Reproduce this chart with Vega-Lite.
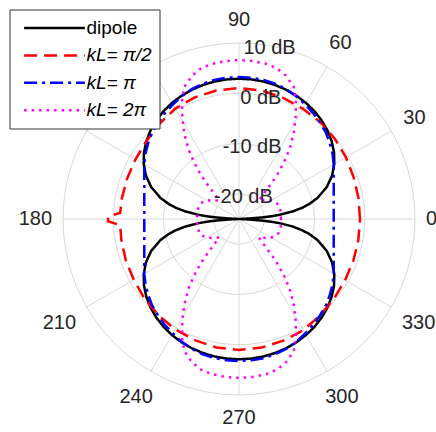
{
"$schema":"https://vega.github.io/schema/vega-lite/v6.json",
"width":352,"height":352,
"autosize":{"type":"none"},
"padding":{"left":63,"top":43,"right":21,"bottom":37},
"background":"white",
"config":{"view":{"stroke":null},"font":"Liberation Sans"},
"datasets":{
"rings":[{"v":-20},{"v":-10},{"v":0},{"v":10}],
"spokes":[{"a":0},{"a":30},{"a":60},{"a":90},{"a":120},{"a":150},{"a":180},{"a":210},{"a":240},{"a":270},{"a":300},{"a":330}],
"alabels":[{"t":"0","a":0},{"t":"30","a":30},{"t":"60","a":60},{"t":"90","a":90},{"t":"180","a":180},{"t":"210","a":210},{"t":"240","a":240},{"t":"270","a":270},{"t":"300","a":300},{"t":"330","a":330}],
"rlabels":[{"t":"-20 dB","v":-20},{"t":"-10 dB","v":-10},{"t":"0 dB","v":0},{"t":"10 dB","v":10}],
"curves":[
{"s":"dipole","a":0,"d":-25},{"s":"dipole","a":2.5,"d":-24.31},{"s":"dipole","a":3,"d":-22.72},{"s":"dipole","a":4,"d":-20.23},{"s":"dipole","a":5,"d":-18.29},{"s":"dipole","a":6,"d":-16.72},{"s":"dipole","a":8,"d":-14.23},{"s":"dipole","a":10,"d":-12.31},{"s":"dipole","a":12,"d":-10.74},{"s":"dipole","a":15,"d":-8.84},{"s":"dipole","a":20,"d":-6.42},{"s":"dipole","a":25,"d":-4.58},{"s":"dipole","a":30,"d":-3.12},{"s":"dipole","a":35,"d":-1.93},{"s":"dipole","a":40,"d":-0.94},{"s":"dipole","a":45,"d":-0.11},{"s":"dipole","a":50,"d":0.58},{"s":"dipole","a":55,"d":1.17},{"s":"dipole","a":60,"d":1.65},{"s":"dipole","a":65,"d":2.05},{"s":"dipole","a":70,"d":2.36},{"s":"dipole","a":75,"d":2.6},{"s":"dipole","a":80,"d":2.77},{"s":"dipole","a":85,"d":2.87},{"s":"dipole","a":90,"d":2.9},
{"s":"dipole","a":95,"d":2.87},{"s":"dipole","a":100,"d":2.77},{"s":"dipole","a":105,"d":2.6},{"s":"dipole","a":110,"d":2.36},{"s":"dipole","a":115,"d":2.05},{"s":"dipole","a":120,"d":1.65},{"s":"dipole","a":125,"d":1.17},{"s":"dipole","a":130,"d":0.58},{"s":"dipole","a":135,"d":-0.11},{"s":"dipole","a":140,"d":-0.94},{"s":"dipole","a":145,"d":-1.93},{"s":"dipole","a":150,"d":-3.12},{"s":"dipole","a":155,"d":-4.58},{"s":"dipole","a":160,"d":-6.42},{"s":"dipole","a":165,"d":-8.84},{"s":"dipole","a":168,"d":-10.74},{"s":"dipole","a":170,"d":-12.31},{"s":"dipole","a":172,"d":-14.23},{"s":"dipole","a":174,"d":-16.72},{"s":"dipole","a":175,"d":-18.29},{"s":"dipole","a":176,"d":-20.23},{"s":"dipole","a":177,"d":-22.72},{"s":"dipole","a":177.5,"d":-24.31},{"s":"dipole","a":180,"d":-25},
{"s":"dipole","a":182.5,"d":-24.31},{"s":"dipole","a":183,"d":-22.72},{"s":"dipole","a":184,"d":-20.23},{"s":"dipole","a":185,"d":-18.29},{"s":"dipole","a":186,"d":-16.72},{"s":"dipole","a":188,"d":-14.23},{"s":"dipole","a":190,"d":-12.31},{"s":"dipole","a":192,"d":-10.74},{"s":"dipole","a":195,"d":-8.84},{"s":"dipole","a":200,"d":-6.42},{"s":"dipole","a":205,"d":-4.58},{"s":"dipole","a":210,"d":-3.12},{"s":"dipole","a":215,"d":-1.93},{"s":"dipole","a":220,"d":-0.94},{"s":"dipole","a":225,"d":-0.11},{"s":"dipole","a":230,"d":0.58},{"s":"dipole","a":235,"d":1.17},{"s":"dipole","a":240,"d":1.65},{"s":"dipole","a":245,"d":2.05},{"s":"dipole","a":250,"d":2.36},{"s":"dipole","a":255,"d":2.6},{"s":"dipole","a":260,"d":2.77},{"s":"dipole","a":265,"d":2.87},{"s":"dipole","a":270,"d":2.9},
{"s":"dipole","a":275,"d":2.87},{"s":"dipole","a":280,"d":2.77},{"s":"dipole","a":285,"d":2.6},{"s":"dipole","a":290,"d":2.36},{"s":"dipole","a":295,"d":2.05},{"s":"dipole","a":300,"d":1.65},{"s":"dipole","a":305,"d":1.17},{"s":"dipole","a":310,"d":0.58},{"s":"dipole","a":315,"d":-0.11},{"s":"dipole","a":320,"d":-0.94},{"s":"dipole","a":325,"d":-1.93},{"s":"dipole","a":330,"d":-3.12},{"s":"dipole","a":335,"d":-4.58},{"s":"dipole","a":340,"d":-6.42},{"s":"dipole","a":345,"d":-8.84},{"s":"dipole","a":348,"d":-10.74},{"s":"dipole","a":350,"d":-12.31},{"s":"dipole","a":352,"d":-14.23},{"s":"dipole","a":354,"d":-16.72},{"s":"dipole","a":355,"d":-18.29},{"s":"dipole","a":356,"d":-20.23},{"s":"dipole","a":357,"d":-22.72},{"s":"dipole","a":357.5,"d":-24.31},{"s":"dipole","a":360,"d":-25},
{"s":"kL= π/2","a":0,"d":-0.94},{"s":"kL= π/2","a":10,"d":-0.88},{"s":"kL= π/2","a":20,"d":-0.74},{"s":"kL= π/2","a":30,"d":-0.44},{"s":"kL= π/2","a":40,"d":-0.14},{"s":"kL= π/2","a":50,"d":0.15},{"s":"kL= π/2","a":60,"d":0.35},{"s":"kL= π/2","a":70,"d":0.65},{"s":"kL= π/2","a":80,"d":0.95},{"s":"kL= π/2","a":90,"d":1.05},{"s":"kL= π/2","a":100,"d":0.95},{"s":"kL= π/2","a":110,"d":0.75},{"s":"kL= π/2","a":120,"d":0.35},{"s":"kL= π/2","a":130,"d":-0.34},{"s":"kL= π/2","a":140,"d":-0.94},{"s":"kL= π/2","a":150,"d":-1.24},{"s":"kL= π/2","a":160,"d":-1.34},{"s":"kL= π/2","a":170,"d":-1.34},{"s":"kL= π/2","a":177,"d":-1.34},{"s":"kL= π/2","a":179,"d":1.05},{"s":"kL= π/2","a":181,"d":1.05},{"s":"kL= π/2","a":183,"d":-1.34},{"s":"kL= π/2","a":190,"d":-1.24},{"s":"kL= π/2","a":200,"d":-1.04},{"s":"kL= π/2","a":210,"d":-0.84},{"s":"kL= π/2","a":220,"d":-0.44},{"s":"kL= π/2","a":230,"d":-0.04},{"s":"kL= π/2","a":240,"d":0.35},{"s":"kL= π/2","a":250,"d":0.65},{"s":"kL= π/2","a":260,"d":0.95},{"s":"kL= π/2","a":270,"d":1.05},{"s":"kL= π/2","a":280,"d":0.95},{"s":"kL= π/2","a":290,"d":0.75},{"s":"kL= π/2","a":300,"d":0.55},{"s":"kL= π/2","a":310,"d":0.05},{"s":"kL= π/2","a":320,"d":-0.34},{"s":"kL= π/2","a":330,"d":-0.64},{"s":"kL= π/2","a":340,"d":-0.8},{"s":"kL= π/2","a":350,"d":-0.9},{"s":"kL= π/2","a":360,"d":-0.94},
{"s":"kL= π","a":30,"d":-3.25},{"s":"kL= π","a":35,"d":-2.3},{"s":"kL= π","a":40,"d":-1.44},{"s":"kL= π","a":45,"d":-0.6},{"s":"kL= π","a":50,"d":0.05},{"s":"kL= π","a":55,"d":0.7},{"s":"kL= π","a":60,"d":1.3},{"s":"kL= π","a":65,"d":1.94},{"s":"kL= π","a":70,"d":2.48},{"s":"kL= π","a":75,"d":2.84},{"s":"kL= π","a":80,"d":3.1},{"s":"kL= π","a":85,"d":3.2},{"s":"kL= π","a":90,"d":3.24},
{"s":"kL= π","a":95,"d":3.2},{"s":"kL= π","a":100,"d":3.1},{"s":"kL= π","a":105,"d":2.84},{"s":"kL= π","a":110,"d":2.48},{"s":"kL= π","a":115,"d":1.94},{"s":"kL= π","a":120,"d":1.3},{"s":"kL= π","a":125,"d":0.7},{"s":"kL= π","a":130,"d":0.05},{"s":"kL= π","a":135,"d":-0.6},{"s":"kL= π","a":140,"d":-1.44},{"s":"kL= π","a":145,"d":-2.3},{"s":"kL= π","a":150,"d":-3.25},
{"s":"kL= π","a":210,"d":-3.25},{"s":"kL= π","a":215,"d":-2.3},{"s":"kL= π","a":220,"d":-1.44},{"s":"kL= π","a":225,"d":-0.6},{"s":"kL= π","a":230,"d":0.05},{"s":"kL= π","a":235,"d":0.7},{"s":"kL= π","a":240,"d":1.3},{"s":"kL= π","a":245,"d":1.94},{"s":"kL= π","a":250,"d":2.48},{"s":"kL= π","a":255,"d":2.84},{"s":"kL= π","a":260,"d":3.1},{"s":"kL= π","a":265,"d":3.2},{"s":"kL= π","a":270,"d":3.24},
{"s":"kL= π","a":275,"d":3.2},{"s":"kL= π","a":280,"d":3.1},{"s":"kL= π","a":285,"d":2.84},{"s":"kL= π","a":290,"d":2.48},{"s":"kL= π","a":295,"d":1.94},{"s":"kL= π","a":300,"d":1.3},{"s":"kL= π","a":305,"d":0.7},{"s":"kL= π","a":310,"d":0.05},{"s":"kL= π","a":315,"d":-0.6},{"s":"kL= π","a":320,"d":-1.44},{"s":"kL= π","a":325,"d":-2.3},{"s":"kL= π","a":330,"d":-3.25},{"s":"kL= π","a":390,"d":-3.25},
{"s":"kL= 2π","a":0,"d":-16.65},{"s":"kL= 2π","a":10,"d":-16.55},{"s":"kL= 2π","a":20,"d":-16.65},{"s":"kL= 2π","a":25,"d":-17.05},{"s":"kL= 2π","a":30,"d":-17.64},{"s":"kL= 2π","a":35,"d":-18.44},{"s":"kL= 2π","a":39,"d":-19.13},{"s":"kL= 2π","a":43,"d":-19.63},{"s":"kL= 2π","a":45,"d":-18.44},{"s":"kL= 2π","a":46.5,"d":-17.05},{"s":"kL= 2π","a":48,"d":-15.06},{"s":"kL= 2π","a":49.5,"d":-13.07},{"s":"kL= 2π","a":51.5,"d":-10.68},{"s":"kL= 2π","a":54,"d":-7.9},{"s":"kL= 2π","a":57.5,"d":-4.72},{"s":"kL= 2π","a":61,"d":-1.74},{"s":"kL= 2π","a":64.5,"d":1.25},{"s":"kL= 2π","a":67.5,"d":3.44},{"s":"kL= 2π","a":72,"d":5.03},{"s":"kL= 2π","a":76,"d":5.92},{"s":"kL= 2π","a":80,"d":6.32},{"s":"kL= 2π","a":85,"d":6.52},{"s":"kL= 2π","a":90,"d":6.62},
{"s":"kL= 2π","a":95,"d":6.52},{"s":"kL= 2π","a":100,"d":6.32},{"s":"kL= 2π","a":104,"d":5.92},{"s":"kL= 2π","a":108,"d":5.03},{"s":"kL= 2π","a":112.5,"d":3.44},{"s":"kL= 2π","a":115.5,"d":1.25},{"s":"kL= 2π","a":119,"d":-1.74},{"s":"kL= 2π","a":122.5,"d":-4.72},{"s":"kL= 2π","a":126,"d":-7.9},{"s":"kL= 2π","a":128.5,"d":-10.68},{"s":"kL= 2π","a":130.5,"d":-13.07},{"s":"kL= 2π","a":132,"d":-15.06},{"s":"kL= 2π","a":133.5,"d":-17.05},{"s":"kL= 2π","a":135,"d":-18.44},{"s":"kL= 2π","a":137,"d":-19.63},{"s":"kL= 2π","a":141,"d":-19.13},{"s":"kL= 2π","a":145,"d":-18.44},{"s":"kL= 2π","a":150,"d":-17.64},{"s":"kL= 2π","a":155,"d":-17.05},{"s":"kL= 2π","a":160,"d":-16.65},{"s":"kL= 2π","a":170,"d":-16.55},{"s":"kL= 2π","a":180,"d":-16.65},
{"s":"kL= 2π","a":190,"d":-16.55},{"s":"kL= 2π","a":200,"d":-16.65},{"s":"kL= 2π","a":205,"d":-17.05},{"s":"kL= 2π","a":210,"d":-17.64},{"s":"kL= 2π","a":215,"d":-18.44},{"s":"kL= 2π","a":219,"d":-19.13},{"s":"kL= 2π","a":223,"d":-19.63},{"s":"kL= 2π","a":225,"d":-18.44},{"s":"kL= 2π","a":226.5,"d":-17.05},{"s":"kL= 2π","a":228,"d":-15.06},{"s":"kL= 2π","a":229.5,"d":-13.07},{"s":"kL= 2π","a":231.5,"d":-10.68},{"s":"kL= 2π","a":234,"d":-7.9},{"s":"kL= 2π","a":237.5,"d":-4.72},{"s":"kL= 2π","a":241,"d":-1.74},{"s":"kL= 2π","a":244.5,"d":1.25},{"s":"kL= 2π","a":247.5,"d":3.44},{"s":"kL= 2π","a":252,"d":5.03},{"s":"kL= 2π","a":256,"d":5.92},{"s":"kL= 2π","a":260,"d":6.32},{"s":"kL= 2π","a":265,"d":6.52},{"s":"kL= 2π","a":270,"d":6.62},
{"s":"kL= 2π","a":275,"d":6.52},{"s":"kL= 2π","a":280,"d":6.32},{"s":"kL= 2π","a":284,"d":5.92},{"s":"kL= 2π","a":288,"d":5.03},{"s":"kL= 2π","a":292.5,"d":3.44},{"s":"kL= 2π","a":295.5,"d":1.25},{"s":"kL= 2π","a":299,"d":-1.74},{"s":"kL= 2π","a":302.5,"d":-4.72},{"s":"kL= 2π","a":306,"d":-7.9},{"s":"kL= 2π","a":308.5,"d":-10.68},{"s":"kL= 2π","a":310.5,"d":-13.07},{"s":"kL= 2π","a":312,"d":-15.06},{"s":"kL= 2π","a":313.5,"d":-17.05},{"s":"kL= 2π","a":315,"d":-18.44},{"s":"kL= 2π","a":317,"d":-19.63},{"s":"kL= 2π","a":321,"d":-19.13},{"s":"kL= 2π","a":325,"d":-18.44},{"s":"kL= 2π","a":330,"d":-17.64},{"s":"kL= 2π","a":335,"d":-17.05},{"s":"kL= 2π","a":340,"d":-16.65},{"s":"kL= 2π","a":350,"d":-16.55},{"s":"kL= 2π","a":360,"d":-16.65}
]},
"layer":[
{"data":{"name":"rings"},
 "transform":[{"calculate":"datum.v+25","as":"r"},{"calculate":"0","as":"o"}],
 "mark":{"type":"point","shape":"circle","filled":false,"color":"#d9d9d9","strokeWidth":1,"opacity":1},
 "encoding":{"x":{"field":"o","type":"quantitative","scale":{"domain":[-35,35],"nice":false,"zero":false},"axis":null},
  "y":{"field":"o","type":"quantitative","scale":{"domain":[-35,35],"nice":false,"zero":false},"axis":null},
  "size":{"field":"r","type":"quantitative","scale":{"type":"pow","exponent":2,"domain":[0,35],"range":[0,123904]},"legend":null}}},
{"data":{"name":"spokes"},
 "transform":[{"calculate":"35*cos(datum.a*PI/180)","as":"ex"},{"calculate":"35*sin(datum.a*PI/180)","as":"ey"},{"calculate":"0","as":"o"}],
 "mark":{"type":"rule","color":"#d9d9d9","strokeWidth":1},
 "encoding":{"x":{"field":"o","type":"quantitative","scale":{"domain":[-35,35],"nice":false,"zero":false},"axis":null},
  "y":{"field":"o","type":"quantitative","scale":{"domain":[-35,35],"nice":false,"zero":false},"axis":null},
  "x2":{"field":"ex"},"y2":{"field":"ey"}}},
{"data":{"name":"curves"},
 "transform":[{"calculate":"(max(datum.d,-25)+25)*cos(datum.a*PI/180)","as":"x"},{"calculate":"(max(datum.d,-25)+25)*sin(datum.a*PI/180)","as":"y"}],
 "mark":{"type":"line","strokeWidth":2.5,"clip":false},
 "encoding":{
  "x":{"field":"x","type":"quantitative","scale":{"domain":[-35,35],"nice":false,"zero":false},"axis":null},
  "y":{"field":"y","type":"quantitative","scale":{"domain":[-35,35],"nice":false,"zero":false},"axis":null},
  "order":{"field":"a","type":"quantitative"},
  "color":{"field":"s","type":"nominal","scale":{"domain":["dipole","kL= π/2","kL= π","kL= 2π"],"range":["#000000","#ff0000","#0000ff","#ff00ff"]},
   "legend":{"title":null,"orient":"none","legendX":-53.5,"legendY":-33.5,"symbolType":"M-3.2,0H3.2","symbolSize":361,"symbolStrokeWidth":2.5,"symbolOffset":26.5,"labelFont":"Liberation Sans","labelFontSize":19,"labelColor":"#000000","labelOffset":21,"rowPadding":6.4,"padding":7.5,"strokeColor":"#333333","fillColor":"white","labelLimit":200,
    "encode":{"labels":{"update":{"fontStyle":{"signal":"datum.value === 'dipole' ? 'normal' : 'italic'"}}}}}},
  "strokeDash":{"field":"s","type":"nominal","scale":{"domain":["dipole","kL= π/2","kL= π","kL= 2π"],"range":[[1,0],[13,7],[13,5,3,5],[2.5,5]]},
   "legend":{"title":null,"orient":"none","legendX":-53.5,"legendY":-33.5,"symbolType":"M-3.2,0H3.2","symbolSize":361,"symbolStrokeWidth":2.5,"symbolOffset":26.5,"labelFont":"Liberation Sans","labelFontSize":19,"labelColor":"#000000","labelOffset":21,"rowPadding":6.4,"padding":7.5,"strokeColor":"#333333","fillColor":"white","labelLimit":200,
    "encode":{"labels":{"update":{"fontStyle":{"signal":"datum.value === 'dipole' ? 'normal' : 'italic'"}}}}}}
 }},
{"data":{"name":"alabels"},
 "transform":[
  {"calculate":"length(datum.t)*11.1","as":"w"},
  {"calculate":"(187+abs(cos(datum.a*PI/180))*datum.w/2+abs(sin(datum.a*PI/180))*12)*35/176","as":"rl"},
  {"calculate":"datum.rl*cos(datum.a*PI/180)","as":"x"},
  {"calculate":"datum.rl*sin(datum.a*PI/180)","as":"y"}],
 "mark":{"type":"text","fontSize":20,"color":"#262626","align":"center","baseline":"middle","font":"Liberation Sans"},
 "encoding":{"x":{"field":"x","type":"quantitative","scale":{"domain":[-35,35],"nice":false,"zero":false},"axis":null},
  "y":{"field":"y","type":"quantitative","scale":{"domain":[-35,35],"nice":false,"zero":false},"axis":null},
  "text":{"field":"t","type":"nominal"}}},
{"data":{"name":"rlabels"},
 "transform":[
  {"calculate":"(datum.v+25)*cos(80*PI/180)","as":"x"},
  {"calculate":"(datum.v+25)*sin(80*PI/180)","as":"y"}],
 "mark":{"type":"text","fontSize":20,"color":"#262626","align":"center","baseline":"middle","dy":2.5,"font":"Liberation Sans"},
 "encoding":{"x":{"field":"x","type":"quantitative","scale":{"domain":[-35,35],"nice":false,"zero":false},"axis":null},
  "y":{"field":"y","type":"quantitative","scale":{"domain":[-35,35],"nice":false,"zero":false},"axis":null},
  "text":{"field":"t","type":"nominal"}}}
]
}
